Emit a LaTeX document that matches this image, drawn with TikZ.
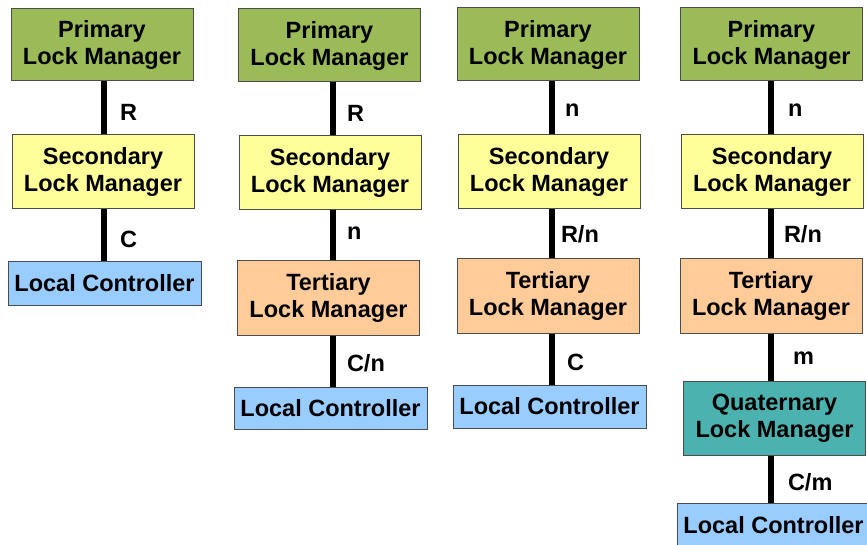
\documentclass[tikz,border=0pt]{standalone}
\usepackage{fontspec}
\setmainfont{Liberation Sans}
\definecolor{primC}{RGB}{155,187,89}
\definecolor{secC}{RGB}{255,255,153}
\definecolor{terC}{RGB}{255,204,153}
\definecolor{quaC}{RGB}{75,178,176}
\definecolor{locC}{RGB}{153,204,255}
\tikzstyle{nB}=[rectangle,draw=black!70,line width=1pt,minimum width=182pt,minimum height=74pt,inner sep=0pt,font=\fontsize{23.5}{27}\selectfont\bfseries,align=center]
\tikzstyle{nP}=[nB,fill=primC,minimum height=72pt]
\tikzstyle{nS}=[nB,fill=secC]
\tikzstyle{nT}=[nB,fill=terC]
\tikzstyle{nQ}=[nB,fill=quaC]
\tikzstyle{nL}=[nB,fill=locC,minimum width=193pt,minimum height=43pt]
\tikzstyle{eS}=[line width=6pt,draw=black]
\tikzstyle{eNS}=[right,inner sep=0pt,font=\fontsize{23.5}{27}\selectfont\bfseries]
\begin{document}
\begin{tikzpicture}[x=1pt,y=-1pt]
                \useasboundingbox (0,0) rectangle (867,545);
                % lines of the four columns
                \coordinate (c1) at (104,0);
                \coordinate (c2) at (333,0);
                \coordinate (c3) at (552,0);
                \coordinate (c4) at (771,0);
                % first column
                \draw (102,44.5) node[nP] (p1) {Primary\\Lock Manager};
                \draw (103,172) node[nS] (s1) {Secondary\\Lock Manager};
                \draw (104.5,283.5) node[nL] (l1) {Local Controller};
                % second column
                \draw (329.5,45.5) node[nP,minimum height=73pt] (p2) {Primary\\Lock Manager};
                \draw (330,173) node[nS] (s2) {Secondary\\Lock Manager};
                \draw (328.5,298) node[nT] (t2) {Tertiary\\Lock Manager};
                \draw (330.5,408) node[nL,minimum height=42pt] (l2) {Local Controller};
                % third column
                \draw (548,44.5) node[nP,minimum height=73pt] (p3) {Primary\\Lock Manager};
                \draw (549,172) node[nS] (s3) {Secondary\\Lock Manager};
                \draw (548,296) node[nT] (t3) {Tertiary\\Lock Manager};
                \draw (549.5,406.5) node[nL] (l3) {Local Controller};
                % fourth column
                \draw (771.5,44.5) node[nP,minimum height=73pt] (p4) {Primary\\Lock Manager};
                \draw (772,172) node[nS] (s4) {Secondary\\Lock Manager};
                \draw (771,296) node[nT] (t4) {Tertiary\\Lock Manager};
                \draw (774.5,418) node[nQ] (q4) {Quaternary\\Lock Manager};
                \draw (773.5,525.5) node[nL,minimum height=45pt] (l4) {Local Controller};
                \path
                    (p1.south -| c1) edge[eS] node[eNS,xshift=13pt,yshift=-4.5pt]{R} (s1.north -| c1)
                    (s1.south -| c1) edge[eS] node[eNS,xshift=13pt,yshift=-3.5pt]{C} (l1.north -| c1)
                    (p2.south -| c2) edge[eS] node[eNS,xshift=11pt,yshift=-4pt]{R} (s2.north -| c2)
                    (s2.south -| c2) edge[eS] node[eNS,xshift=11pt,yshift=2pt]{n} (t2.north -| c2)
                    (t2.south -| c2) edge[eS] node[eNS,xshift=11pt,yshift=-2pt]{C/n} (l2.north -| c2)
                    (p3.south -| c3) edge[eS] node[eNS,xshift=10pt,yshift=-2pt]{n} (s3.north -| c3)
                    (s3.south -| c3) edge[eS] node[eNS,xshift=6pt]{R/n} (t3.north -| c3)
                    (t3.south -| c3) edge[eS] node[eNS,xshift=12pt,yshift=-3pt]{C} (l3.north -| c3)
                    (p4.south -| c4) edge[eS] node[eNS,xshift=14pt,yshift=-2pt]{n} (s4.north -| c4)
                    (s4.south -| c4) edge[eS] node[eNS,xshift=10pt]{R/n} (t4.north -| c4)
                    (t4.south -| c4) edge[eS] node[eNS,xshift=19pt,yshift=-1pt]{m} (q4.north -| c4)
                    (q4.south -| c4) edge[eS] node[eNS,xshift=14pt,yshift=-3pt]{C/m} (l4.north -| c4)
                ;
        \end{tikzpicture}
\end{document}
